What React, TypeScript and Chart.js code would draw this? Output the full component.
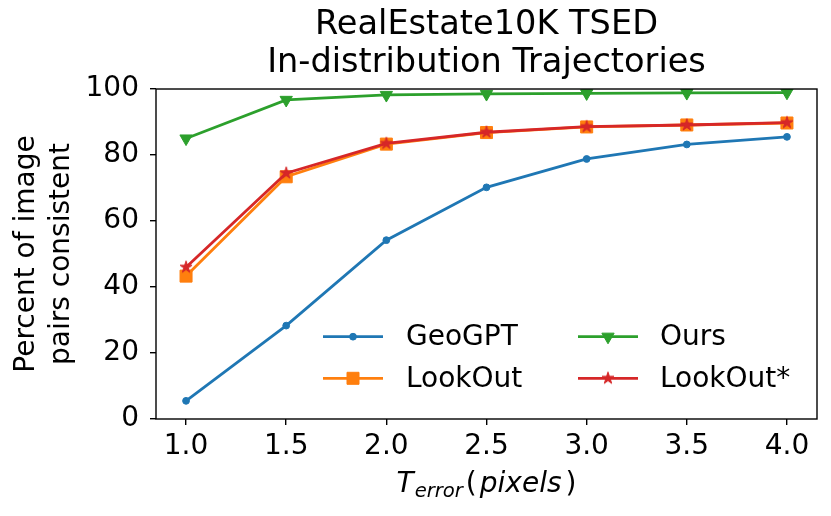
import React, { useEffect, useRef } from 'react';
import { Chart, registerables } from 'chart.js';

Chart.register(...registerables);

// ---- data ----
const thresholds = [1.0, 1.5, 2.0, 2.5, 3.0, 3.5, 4.0];
const xTickValues = [1.0, 1.5, 2.0, 2.5, 3.0, 3.5, 4.0];
const geoGPT = [5.5, 28.3, 54.2, 70.2, 78.8, 83.2, 85.5];
const lookOut = [43.3, 73.4, 83.3, 86.8, 88.5, 89.1, 89.7];
const ours = [85.0, 96.7, 98.2, 98.5, 98.7, 98.8, 98.9];
const lookOutStar = [46.0, 74.5, 83.5, 86.9, 88.6, 89.1, 89.8];
const seriesNames = ['GeoGPT', 'LookOut', 'Ours', 'LookOut*'];
const titleLines = ['RealEstate10K TSED', 'In-distribution Trajectories'];
const yLabelLines = ['Percent of image', 'pairs consistent'];

const BLUE = '#1f77b4';
const ORANGE = '#ff7f0e';
const GREEN = '#2ca02c';
const RED = '#d62728';
const FONT = "'DejaVu Sans', sans-serif";

function makeStar(R: number, color: string): HTMLCanvasElement {
  const size = 18;
  const c = document.createElement('canvas');
  c.width = size;
  c.height = size;
  const ctx = c.getContext('2d')!;
  const cx = size / 2;
  const cy = size / 2;
  const r = R * 0.381966;
  ctx.beginPath();
  for (let i = 0; i < 10; i++) {
    const ang = -Math.PI / 2 + (i * Math.PI) / 5;
    const rr = i % 2 === 0 ? R : r;
    const px = cx + rr * Math.cos(ang);
    const py = cy + rr * Math.sin(ang);
    if (i === 0) ctx.moveTo(px, py);
    else ctx.lineTo(px, py);
  }
  ctx.closePath();
  ctx.fillStyle = color;
  ctx.fill();
  ctx.lineWidth = 1;
  ctx.strokeStyle = color;
  ctx.lineJoin = 'miter';
  ctx.stroke();
  return c;
}

function toPoints(vals: number[]) {
  return thresholds.map((x, i) => ({ x, y: vals[i] }));
}

export default function App() {
  const ref = useRef<HTMLCanvasElement | null>(null);

  useEffect(() => {
    if (!ref.current) return;
    const star = makeStar(6.3, RED);

    const framePlugin = {
      id: 'frameAndLabels',
      afterDraw(chart: any) {
        const ctx = chart.ctx as CanvasRenderingContext2D;
        const a = chart.chartArea;
        ctx.save();
        // frame
        ctx.strokeStyle = '#000';
        ctx.lineWidth = 1.4;
        ctx.strokeRect(a.left, a.top, a.right - a.left, a.bottom - a.top);

        // x label: T_error(pixels)
        const cx = (a.left + a.right) / 2;
        const base = 491.7;
        const big = 28;
        const small = 19.6;
        const parts = [
          { t: 'T', f: `italic ${big}px ${FONT}`, dy: 0, gap: 1 },
          { t: 'error', f: `italic ${small}px ${FONT}`, dy: 5.6, gap: 3 },
          { t: '(', f: `${big}px ${FONT}`, dy: 0, gap: 3 },
          { t: 'pixels', f: `italic ${big}px ${FONT}`, dy: 0, gap: 4 },
          { t: ')', f: `${big}px ${FONT}`, dy: 0, gap: 0 },
        ];
        let total = 0;
        const widths: number[] = [];
        for (const p of parts) {
          ctx.font = p.f;
          const w = ctx.measureText(p.t).width + p.gap;
          widths.push(w);
          total += w;
        }
        let x = cx - total / 2;
        ctx.fillStyle = '#000';
        ctx.textBaseline = 'alphabetic';
        ctx.textAlign = 'left';
        parts.forEach((p, i) => {
          ctx.font = p.f;
          ctx.fillText(p.t, x, base + p.dy);
          x += widths[i];
        });

        // legend
        const rows = [336.7, 378.3];
        const cols = [
          { x0: 323, x1: 383, tx: 406 },
          { x0: 578, x1: 638, tx: 660 },
        ];
        const entries = [
          { name: seriesNames[0], color: BLUE, marker: 'circle', col: 0, row: 0 },
          { name: seriesNames[1], color: ORANGE, marker: 'square', col: 0, row: 1 },
          { name: seriesNames[2], color: GREEN, marker: 'tri', col: 1, row: 0 },
          { name: seriesNames[3], color: RED, marker: 'star', col: 1, row: 1 },
        ];
        for (const e of entries) {
          const c = cols[e.col];
          const y = rows[e.row];
          ctx.strokeStyle = e.color;
          ctx.fillStyle = e.color;
          ctx.lineWidth = 2.8;
          ctx.beginPath();
          ctx.moveTo(c.x0, y);
          ctx.lineTo(c.x1, y);
          ctx.stroke();
          const mx = (c.x0 + c.x1) / 2;
          ctx.lineWidth = 1;
          if (e.marker === 'circle') {
            ctx.beginPath();
            ctx.arc(mx, y, 3.4, 0, Math.PI * 2);
            ctx.fill();
            ctx.stroke();
          } else if (e.marker === 'square') {
            ctx.beginPath();
            ctx.rect(mx - 6, y - 6, 12, 12);
            ctx.fill();
            ctx.stroke();
          } else if (e.marker === 'tri') {
            const r = 7.1;
            ctx.beginPath();
            ctx.moveTo(mx, y + r);
            ctx.lineTo(mx - r * 0.866, y - r * 0.5);
            ctx.lineTo(mx + r * 0.866, y - r * 0.5);
            ctx.closePath();
            ctx.fill();
            ctx.stroke();
          } else {
            ctx.drawImage(star, mx - star.width / 2, y - star.height / 2);
          }
          ctx.fillStyle = '#000';
          ctx.font = `28px ${FONT}`;
          ctx.textBaseline = 'middle';
          ctx.textAlign = 'left';
          ctx.fillText(e.name, c.tx, y + 1);
        }
        ctx.restore();
      },
    };

    Chart.defaults.font.family = FONT;
    Chart.defaults.color = '#000';

    const chart = new Chart(ref.current, {
      type: 'line',
      data: {
        datasets: [
          {
            label: seriesNames[0],
            data: toPoints(geoGPT),
            borderColor: BLUE,
            backgroundColor: BLUE,
            borderWidth: 2.8,
            pointStyle: 'circle',
            pointRadius: 3.4,
            pointBorderWidth: 1,
            order: 3,
          },
          {
            label: seriesNames[1],
            data: toPoints(lookOut),
            borderColor: ORANGE,
            backgroundColor: ORANGE,
            borderWidth: 2.8,
            pointStyle: 'rect',
            pointRadius: 8.5,
            pointBorderWidth: 1,
            order: 2,
          },
          {
            label: seriesNames[2],
            data: toPoints(ours),
            borderColor: GREEN,
            backgroundColor: GREEN,
            borderWidth: 2.8,
            pointStyle: 'triangle',
            pointRotation: 180,
            pointRadius: 7.1,
            pointBorderWidth: 1,
            order: 1,
          },
          {
            label: seriesNames[3],
            data: toPoints(lookOutStar),
            borderColor: RED,
            backgroundColor: RED,
            borderWidth: 2.8,
            pointStyle: star as any,
            pointRadius: 6,
            pointBorderWidth: 1,
            order: 0,
          },
        ],
      },
      options: {
        animation: false,
        responsive: false,
        events: [],
        layout: { padding: { left: 0, right: 14, top: 0, bottom: 0 } },
        plugins: {
          legend: { display: false },
          tooltip: { enabled: false },
          title: {
            display: true,
            text: titleLines,
            fullSize: false,
            color: '#000',
            font: { size: 33.6, family: FONT, weight: 'normal', lineHeight: 1.14 },
            padding: { top: 6, bottom: 6.4 },
          },
        },
        scales: {
          x: {
            type: 'linear',
            min: 0.85,
            max: 4.15,
            afterFit: (s: any) => {
              s.height = 97;
            },
            afterBuildTicks: (s: any) => {
              s.ticks = xTickValues.map((v) => ({ value: v }));
            },
            ticks: {
              callback: (v: any) => Number(v).toFixed(1),
              font: { size: 28, family: FONT },
              color: '#000',
              padding: 4.5,
              maxRotation: 0,
              autoSkip: false,
            },
            grid: {
              display: true,
              drawOnChartArea: false,
              drawTicks: true,
              tickLength: 6,
              color: '#000',
              lineWidth: 1.4,
            },
            border: { display: false },
          },
          y: {
            type: 'linear',
            min: 0,
            max: 100,
            afterFit: (s: any) => {
              s.width = 156;
            },
            ticks: {
              stepSize: 20,
              font: { size: 28, family: FONT },
              color: '#000',
              padding: 11,
            },
            grid: {
              display: true,
              drawOnChartArea: false,
              drawTicks: true,
              tickLength: 6,
              color: '#000',
              lineWidth: 1.4,
            },
            border: { display: false },
            title: {
              display: true,
              text: yLabelLines,
              color: '#000',
              font: { size: 28, family: FONT, lineHeight: 1.22 },
              padding: { top: 10, bottom: 0 },
            },
          },
        },
      },
      plugins: [framePlugin],
    });

    return () => chart.destroy();
  }, []);

  return (
    <div style={{ position: 'fixed', left: 0, top: 0, width: 831, height: 516, background: '#fff' }}>
      <canvas ref={ref} width={831} height={516} style={{ width: 831, height: 516 }} />
    </div>
  );
}
